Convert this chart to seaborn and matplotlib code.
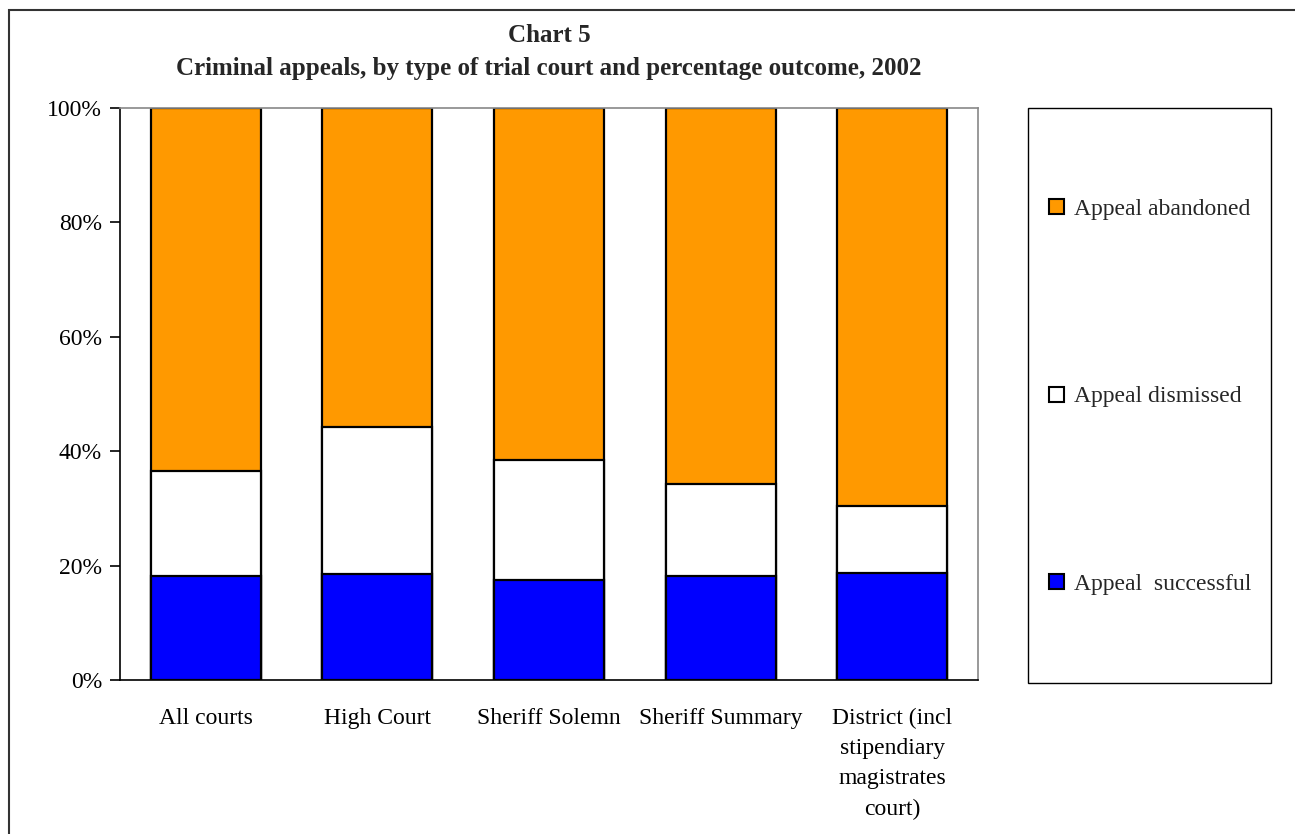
import matplotlib
matplotlib.use("Agg")
import matplotlib.pyplot as plt
from matplotlib.patches import Rectangle, Patch
import seaborn as sns
import pandas as pd
import numpy as np

categories = ["All courts", "High Court", "Sheriff Solemn", "Sheriff Summary",
              "District (incl\nstipendiary\nmagistrates\ncourt)"]
successful = [18.2, 18.5, 17.5, 18.1, 18.7]
dismissed = [18.3, 25.8, 21.0, 16.1, 11.8]
abandoned = [63.5, 55.7, 61.5, 65.8, 69.5]
series_names = ["Appeal abandoned", "Appeal dismissed", "Appeal  successful"]
series_colors = ["#FF9900", "#FFFFFF", "#0000FF"]
yticks = [0, 20, 40, 60, 80, 100]

sns.set_theme(style="white")
plt.rcParams["font.family"] = ["Liberation Serif", "DejaVu Serif"]

W, H = 1295, 834
fig = plt.figure(figsize=(W / 100, H / 100), dpi=100)
fig.patch.set_facecolor("white")

L, R, T, B = 120, 978, 108, 680
ax = fig.add_axes([L / W, 1 - B / H, (R - L) / W, (B - T) / H])

df = pd.DataFrame({
    "court": categories,
    "successful": successful,
    "dismissed": dismissed,
    "abandoned": abandoned,
})
df["top_dismissed"] = df["successful"] + df["dismissed"]
df["top_abandoned"] = df["top_dismissed"] + df["abandoned"]

for col, colr in zip(["top_abandoned", "top_dismissed", "successful"], series_colors):
    sns.barplot(data=df, x="court", y=col, color=colr, edgecolor="black",
                linewidth=1.6, width=0.64, saturation=1, ax=ax, errorbar=None)

ax.set_xlim(-0.5, len(categories) - 0.5)
ax.set_ylim(0, 100)
ax.set_xlabel("")
ax.set_ylabel("")
ax.set_yticks(yticks)
ax.set_yticklabels([f"{v}%" for v in yticks], fontsize=17, color="black")
ax.set_xticks(range(len(categories)))
ax.set_xticklabels(categories, fontsize=17, color="black", linespacing=1.58, va="top")
ax.set_xticks(np.arange(-0.5, len(categories)), minor=True)
ax.tick_params(axis="x", which="major", length=0, pad=20)
ax.tick_params(axis="x", which="minor", length=7, width=1.2, direction="out", color="black")
ax.tick_params(axis="y", which="major", length=7, width=1.2, direction="out", color="black", pad=6, left=True)

for s in ["left", "bottom"]:
    ax.spines[s].set_color("black")
    ax.spines[s].set_linewidth(1.2)
for s in ["top", "right"]:
    ax.spines[s].set_color("#888888")
    ax.spines[s].set_linewidth(1.2)

fig.text(549 / W, 1 - 35 / H, "Chart 5", ha="center", va="center",
         fontsize=18, fontweight="bold")
fig.text(549 / W, 1 - 68 / H,
         "Criminal appeals, by type of trial court and percentage outcome, 2002",
         ha="center", va="center", fontsize=18, fontweight="bold")

# outer chart border
fig.patches.append(Rectangle((9 / W, -0.2), 1.2, 1 - 10 / H + 0.2, transform=fig.transFigure,
                             fill=False, edgecolor="#333333", linewidth=1.5))
# legend box
fig.patches.append(Rectangle((1028 / W, 1 - 683 / H), (1271 - 1028) / W, (683 - 108) / H,
                             transform=fig.transFigure, fill=False,
                             edgecolor="black", linewidth=1.0))

handles = [Patch(facecolor=c, edgecolor="black", linewidth=1.5) for c in series_colors]
fig.legend(handles, series_names, loc="center left",
           bbox_to_anchor=(1049 / W, 1 - 397 / H), frameon=False, fontsize=17,
           labelspacing=7.05, handlelength=0.65, handleheight=0.62, handletextpad=0.4,
           borderpad=0, borderaxespad=0)

fig.savefig("out.png", dpi=100)
